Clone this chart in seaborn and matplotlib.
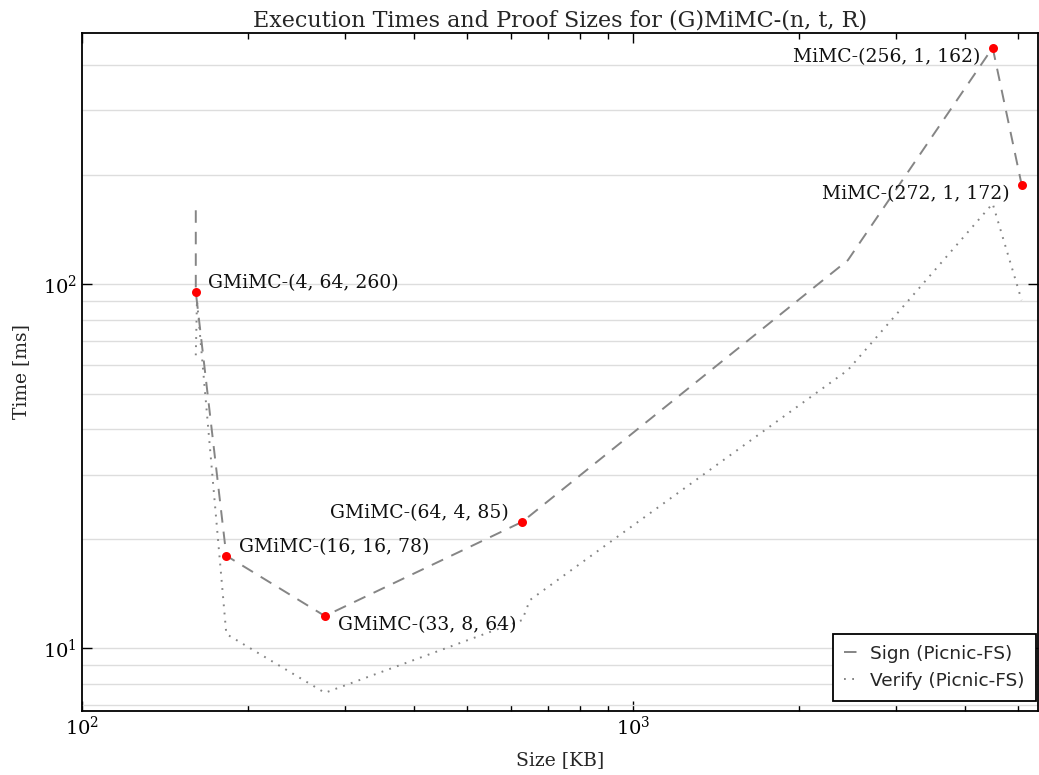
import numpy as np
import pandas as pd
import matplotlib
matplotlib.use("Agg")
import matplotlib.pyplot as plt
import seaborn as sns

# ---- data ----
sign_size = [160.9, 160.9, 182.8, 276.0, 629.6, 2455.0, 4496.0, 5074.0]
sign_time = [159.6, 95.3, 17.96, 12.27, 22.26, 116.4, 446.2, 187.8]

verify_size = [160.9, 161.7, 182.8, 276.0, 629.6, 650.0, 2455.0, 4496.0, 5074.0]
verify_time = [63.8, 90.4, 10.95, 7.55, 11.96, 13.57, 58.1, 166.5, 90.4]

series_names = ["Sign (Picnic-FS)", "Verify (Picnic-FS)"]

point_labels = ["GMiMC-(4, 64, 260)", "GMiMC-(16, 16, 78)", "GMiMC-(33, 8, 64)",
                "GMiMC-(64, 4, 85)", "MiMC-(256, 1, 162)", "MiMC-(272, 1, 172)"]
point_size = [160.9, 182.8, 276.0, 629.6, 4496.0, 5074.0]
point_time = [95.3, 17.96, 12.27, 22.26, 446.2, 187.8]
# label placement: (dx, dy) in points, horizontal alignment
label_offsets = [(9, 6.5), (9, 6.5), (9.5, -6.5), (-9.5, 6.2), (-8.5, -6.8), (-8.5, -7.2)]
label_ha = ["left", "left", "left", "right", "right", "right"]

# ---- style ----
sns.set_style("white")
plt.rcParams["font.family"] = ["DejaVu Serif"]
plt.rcParams["mathtext.fontset"] = "dejavuserif"
plt.rcParams["lines.scale_dashes"] = False

df = pd.DataFrame({
    "size": sign_size + verify_size,
    "time": sign_time + verify_time,
    "series": [series_names[0]] * len(sign_size) + [series_names[1]] * len(verify_size),
})
pts = pd.DataFrame({"size": point_size, "time": point_time})

fig = plt.figure(figsize=(10.39, 7.75), dpi=100)
ax = fig.add_axes([0.0789, 0.0832, 0.9201, 0.8742])

sns.lineplot(data=df, x="size", y="time", style="series", estimator=None, sort=False,
             color="#858585", linewidth=1.4,
             dashes={series_names[0]: (9.0, 6.5), series_names[1]: (1.3, 4.6)},
             ax=ax, zorder=2)
sns.scatterplot(data=pts, x="size", y="time", color="red", s=42, linewidth=0,
                ax=ax, zorder=4, legend=False)

ax.set_xscale("log")
ax.set_yscale("log")
ax.set_xlim(100, 5433)
ax.set_ylim(6.75, 489.6)

for lab, xv, yv, off, ha in zip(point_labels, point_size, point_time, label_offsets, label_ha):
    ax.annotate(lab, (xv, yv), xytext=off, textcoords="offset points",
                ha=ha, va="center", fontsize=13.5, color="#111111", zorder=5)

ax.yaxis.grid(True, which="both", color="#dddddd", linewidth=1.0, zorder=0)
ax.xaxis.grid(False)
ax.set_axisbelow(True)

for sp in ax.spines.values():
    sp.set_color("black")
    sp.set_linewidth(1.3)

ax.tick_params(which="both", direction="in", top=True, right=True, bottom=True, left=True,
               colors="black", labelsize=14)
ax.tick_params(which="major", length=7, width=1)
ax.tick_params(axis="x", which="minor", length=4, width=1)
ax.tick_params(axis="y", which="minor", length=0)

ax.set_title("Execution Times and Proof Sizes for (G)MiMC-(n, t, R)", fontsize=16, pad=5)
ax.set_xlabel("Size [KB]", fontsize=13.5, labelpad=9)
ax.set_ylabel("Time [ms]", fontsize=13.5, labelpad=9)

old = ax.get_legend()
handles = old.legend_handles
labels = [t.get_text() for t in old.texts]
old.remove()
leg = ax.legend(handles, labels, loc="lower right", bbox_to_anchor=(0.998, 0.014),
                frameon=True, fancybox=False,
                edgecolor="black", framealpha=1, handlelength=0.7, handletextpad=0.75,
                borderpad=0.6, labelspacing=0.5, borderaxespad=0.0,
                prop={"family": "DejaVu Sans", "size": 13.3})
leg.get_frame().set_linewidth(1.3)

fig.savefig("out.png", dpi=100, facecolor="white")
